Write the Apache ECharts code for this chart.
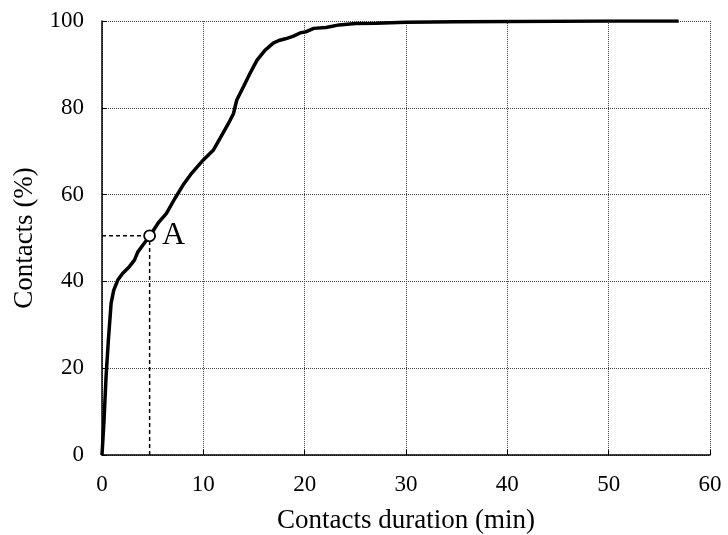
<!DOCTYPE html>
<html>
<head>
<meta charset="utf-8">
<script src="https://cdn.jsdelivr.net/npm/echarts@6/dist/echarts.min.js"></script>
<style>
  html, body { margin: 0; padding: 0; background: #fff; }
  #main { width: 728px; height: 535px; }
</style>
</head>
<body>
<div id="main"></div>
<script>
// cumulative distribution of contact durations
const durationMin = [0, 0.2, 0.4, 0.63, 0.9, 1.16, 1.56, 2.05, 2.7, 3.2, 3.54, 4.04, 4.7, 5.53, 6.36, 7.19, 8.0, 8.84,
  10.0, 11.0, 11.66, 12.48, 12.98, 13.3, 13.97, 14.6, 15.3, 16.1, 16.9, 17.45, 18.1, 18.9, 19.6, 20.1, 20.9, 22.1,
  23.4, 25, 27, 30, 35, 40, 50, 56.9];
const contactsPct = [0, 8, 18, 26.5, 35, 38, 40.3, 41.9, 43.4, 44.9, 46.8, 48.4, 50.4, 53.4, 55.7, 59.1, 62.2, 64.9,
  68.0, 70.3, 73.0, 76.4, 78.7, 81.8, 84.9, 87.9, 91.0, 93.3, 94.9, 95.5, 95.9, 96.5, 97.3, 97.5, 98.3, 98.5,
  99.1, 99.4, 99.5, 99.7, 99.8, 99.9, 100, 100];

// marked point A (median)
const pointA = [4.7, 50.5];
const xTicks = [0, 10, 20, 30, 40, 50, 60];
const yTicks = [0, 20, 40, 60, 80, 100];

const font = 'Liberation Serif';
const curve = durationMin.map((x, i) => [x, contactsPct[i]]);

const chart = echarts.init(document.getElementById('main'));
chart.setOption({
  animation: false,
  backgroundColor: '#fff',
  grid: {left: 102, right: 18, top: 21, bottom: 80, containLabel: false, outerBoundsMode: 'none'},
  xAxis: {
    type: 'value',
    min: xTicks[0], max: xTicks[xTicks.length - 1], interval: 10,
    name: 'Contacts duration (min)',
    nameLocation: 'middle',
    nameGap: 52,
    nameTextStyle: {fontFamily: font, fontSize: 27, color: '#000'},
    axisLine: {show: true, lineStyle: {color: '#000', width: 1.5}},
    axisTick: {show: true, inside: true, length: 5, lineStyle: {color: '#000'}},
    axisLabel: {fontFamily: font, fontSize: 23, color: '#000', margin: 18},
    splitLine: {show: true, lineStyle: {type: 'dotted', color: '#444', width: 1}}
  },
  yAxis: {
    type: 'value',
    min: yTicks[0], max: yTicks[yTicks.length - 1], interval: 20,
    name: 'Contacts (%)',
    nameLocation: 'middle',
    nameGap: 64,
    nameTextStyle: {fontFamily: font, fontSize: 27, color: '#000'},
    axisLine: {show: true, lineStyle: {color: '#000', width: 1.5}},
    axisTick: {show: true, inside: true, length: 5, lineStyle: {color: '#000'}},
    axisLabel: {fontFamily: font, fontSize: 23, color: '#000', margin: 18},
    splitLine: {show: true, lineStyle: {type: 'dotted', color: '#444', width: 1}}
  },
  series: [
    {
      type: 'line',
      data: [[0, pointA[1]], pointA],
      symbol: 'none',
      lineStyle: {color: '#000', width: 1.5, type: [4, 3]},
      z: 3
    },
    {
      type: 'line',
      data: [[pointA[0], 0], pointA],
      symbol: 'none',
      lineStyle: {color: '#000', width: 1.5, type: [4, 3]},
      z: 3
    },
    {
      type: 'line',
      data: curve,
      symbol: 'none',
      lineStyle: {color: '#000', width: 3.5},
      z: 4
    },
    {
      type: 'scatter',
      data: [pointA],
      symbol: 'circle',
      symbolSize: 11,
      itemStyle: {color: '#fff', borderColor: '#000', borderWidth: 1.8, opacity: 1},
      label: {show: true, position: 'right', distance: 6, formatter: 'A',
        fontFamily: font, fontSize: 32, color: '#000'},
      emphasis: {disabled: true},
      z: 5
    }
  ]
});
</script>
</body>
</html>
